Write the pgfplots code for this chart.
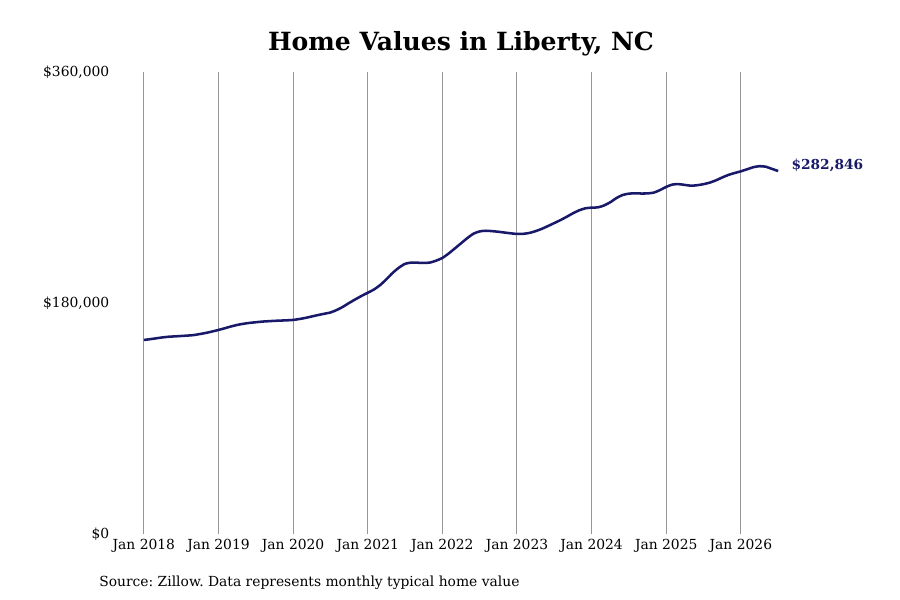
\documentclass[border=0pt]{standalone}
\usepackage{pgfplots}
\pgfplotsset{compat=1.18}
\usepackage{fontspec}
\setmainfont{DejaVu Serif}
\frenchspacing
\definecolor{navy}{RGB}{25,25,105}
\definecolor{gridg}{RGB}{150,150,150}
\begin{document}
\begin{tikzpicture}
\useasboundingbox (0,0) rectangle (675pt,450pt);
\begin{axis}[
  at={(85.5pt,49.5pt)}, anchor=south west,
  scale only axis, width=537.3pt, height=346.5pt,
  xmin=2017.6, xmax=2027.2, ymin=0, ymax=360000,
  axis line style={draw=none},
  major tick length=0pt,
  scaled ticks=false,
  xtick={2018,2019,2020,2021,2022,2023,2024,2025,2026},
  xticklabels={Jan 2018,Jan 2019,Jan 2020,Jan 2021,Jan 2022,Jan 2023,Jan 2024,Jan 2025,Jan 2026},
  ytick={0,180000,360000},
  yticklabels={{\$0},{\$180,000},{\$360,000}},
  xmajorgrids, grid style={gridg, line width=0.75pt},
  ymajorgrids=false,
  tick label style={font=\fontsize{10.4}{12}\selectfont, text=black},
  xticklabel style={yshift=-0.5pt},
  clip=false,
]
\addplot[navy, line width=1.9pt, smooth, tension=0.4] coordinates {
(2018.000,151200)(2018.083,151800)(2018.167,152500)(2018.250,153200)(2018.333,153700)(2018.417,154000)
(2018.500,154300)(2018.583,154600)(2018.667,155000)(2018.750,155800)(2018.833,156700)(2018.917,157800)
(2019.000,159000)(2019.083,160300)(2019.167,161700)(2019.250,162900)(2019.333,163800)(2019.417,164500)
(2019.500,165000)(2019.583,165500)(2019.667,165800)(2019.750,166100)(2019.833,166300)(2019.917,166500)
(2020.000,166800)(2020.083,167500)(2020.167,168400)(2020.250,169500)(2020.333,170600)(2020.417,171600)
(2020.500,172600)(2020.583,174500)(2020.667,177000)(2020.750,180000)(2020.833,182800)(2020.917,185500)
(2021.000,188000)(2021.083,190500)(2021.167,194000)(2021.250,198500)(2021.333,203400)(2021.417,207500)
(2021.500,210500)(2021.583,211500)(2021.667,211400)(2021.750,211200)(2021.833,211500)(2021.917,213000)
(2022.000,215100)(2022.083,218500)(2022.167,222500)(2022.250,226500)(2022.333,230500)(2022.417,234000)
(2022.500,235800)(2022.583,236300)(2022.667,236000)(2022.750,235500)(2022.833,234900)(2022.917,234300)
(2023.000,233800)(2023.083,233900)(2023.167,234600)(2023.250,236000)(2023.333,237800)(2023.417,240000)
(2023.500,242300)(2023.583,244600)(2023.667,247200)(2023.750,249900)(2023.833,252200)(2023.917,253800)
(2024.000,254300)(2024.083,254500)(2024.167,256000)(2024.250,258500)(2024.333,261800)(2024.417,264200)
(2024.500,265200)(2024.583,265500)(2024.667,265300)(2024.750,265400)(2024.833,266000)(2024.917,268000)
(2025.000,270500)(2025.083,272300)(2025.167,272600)(2025.250,272000)(2025.333,271400)(2025.417,271800)
(2025.500,272600)(2025.583,273800)(2025.667,275600)(2025.750,277800)(2025.833,279800)(2025.917,281300)
(2026.000,282600)(2026.083,284200)(2026.167,285800)(2026.250,286600)(2026.333,286200)(2026.417,284500)
(2026.500,282846)
};
\node[anchor=west, text=navy, font=\fontsize{10.3}{12}\selectfont\bfseries, xshift=6.5pt, yshift=4pt] at (axis cs:2026.5,282846) {\$282,846};
\end{axis}
\node[font=\fontsize{18.8}{22}\selectfont\bfseries] at (345.75pt,417pt) {Home Values in Liberty, NC};
\node[anchor=west, inner sep=0pt, font=\fontsize{10.4}{12}\selectfont] at (74.25pt,12.75pt) {Source: Zillow. Data represents monthly typical home value};
\end{tikzpicture}
\end{document}
